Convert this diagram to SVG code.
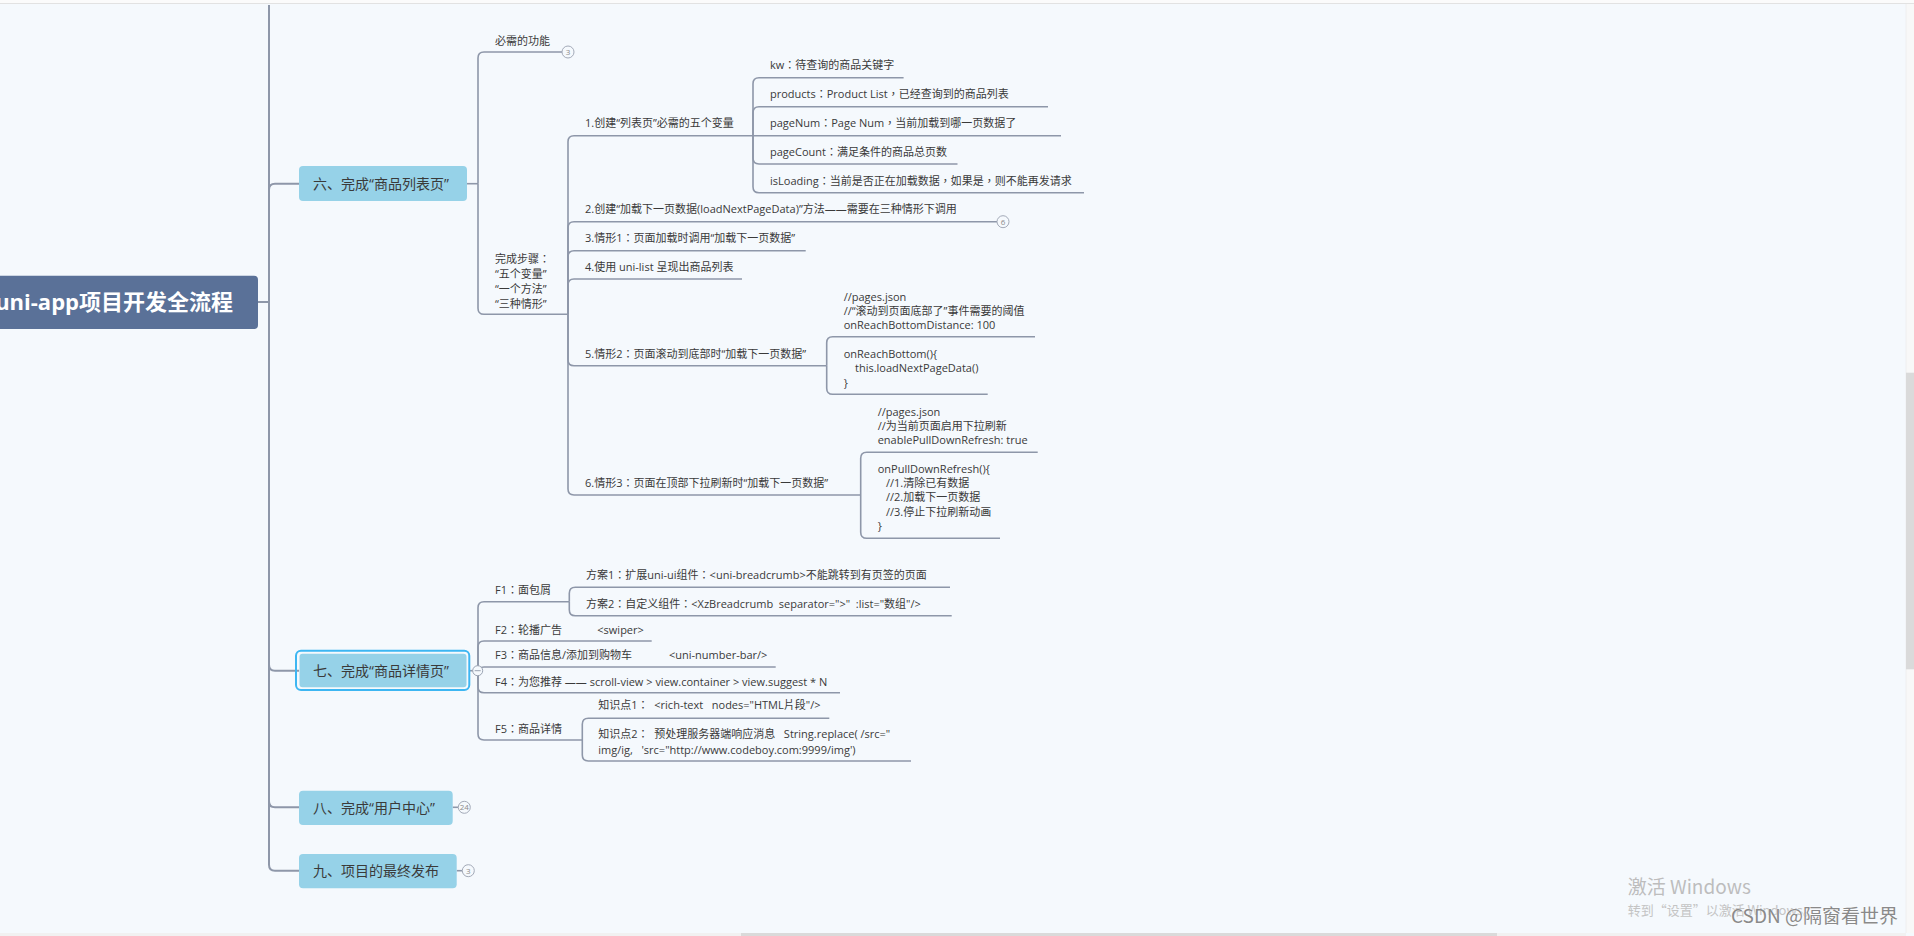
<svg xmlns="http://www.w3.org/2000/svg" width="1914" height="936" viewBox="0 0 1914 936">
<style>
.ln{fill:none;stroke:#8e97a9;stroke-width:1.6;stroke-linejoin:round}
.trunk{fill:none;stroke:#8e97a9;stroke-width:2}
.t{font-family:"Open Sans","Noto Sans CJK TC","Noto Sans CJK SC",sans-serif;font-size:11px;fill:#3a3a3a;white-space:pre}
.l1{fill:#96d2e8}
.l1t{font-family:"Open Sans","Noto Sans CJK SC",sans-serif;font-size:14px;fill:#3a3a3a}
.badge{fill:#f5f9fd;stroke:#a3aab8;stroke-width:1}
.bt{font-family:"Open Sans","Noto Sans CJK SC",sans-serif;font-size:8px;fill:#8a8a8a;text-anchor:middle}
</style>
<rect x="0" y="0" width="1914" height="936" fill="#f5f9fd"/>
<rect x="0" y="0" width="1914" height="3" fill="#fbfbfb"/>
<line x1="0" y1="3.5" x2="1914" y2="3.5" stroke="#e2e2e2" stroke-width="1"/>

<g id="connectors">
  <path class="trunk" d="M258,302 H269"/>
  <path class="trunk" d="M269,302 V5"/>
  <path class="trunk" d="M269,302 V189.7 Q269,183.7 275,183.7 H299"/>
  <path class="trunk" d="M269,302 V664.7 Q269,670.7 275,670.7 H299"/>
  <path class="trunk" d="M269,302 V801.3 Q269,807.3 275,807.3 H299"/>
  <path class="trunk" d="M269,302 V864.7 Q269,870.7 275,870.7 H299"/>
  <path class="ln" d="M467,183.7 H478"/>
  <path class="ln" d="M478,183.7 V58 Q478,52 484,52 H562"/>
  <path class="ln" d="M478,183.7 V308.3 Q478,314.3 484,314.3 H568"/>
  <path class="ln" d="M568,314.3 V141.7 Q568,135.7 574,135.7 H753"/>
  <path class="ln" d="M568,314.3 V227.7 Q568,221.7 574,221.7 H997"/>
  <path class="ln" d="M568,314.3 V256.7 Q568,250.7 574,250.7 H805.7"/>
  <path class="ln" d="M568,314.3 V285 Q568,279 574,279 H742"/>
  <path class="ln" d="M568,314.3 V359.7 Q568,365.7 574,365.7 H826.7"/>
  <path class="ln" d="M568,314.3 V489 Q568,495 574,495 H860.7"/>
  <path class="ln" d="M753,135.7 V83.7 Q753,77.7 759,77.7 H903.6"/>
  <path class="ln" d="M753,135.7 V112.7 Q753,106.7 759,106.7 H1048"/>
  <path class="ln" d="M753,135.7 H1061"/>
  <path class="ln" d="M753,135.7 V158 Q753,164 759,164 H957.5"/>
  <path class="ln" d="M753,135.7 V186.7 Q753,192.7 759,192.7 H1084"/>
  <path class="ln" d="M826.7,365.7 V342.7 Q826.7,336.7 832.7,336.7 H1035"/>
  <path class="ln" d="M826.7,365.7 V388.3 Q826.7,394.3 832.7,394.3 H987.7"/>
  <path class="ln" d="M860.7,495 V458.3 Q860.7,452.3 866.7,452.3 H1037.7"/>
  <path class="ln" d="M860.7,495 V532.3 Q860.7,538.3 866.7,538.3 H1000"/>
  <path class="ln" d="M469,670.7 H473"/>
  <path class="ln" d="M478,670.7 V607.7 Q478,601.7 484,601.7 H569.3"/>
  <path class="ln" d="M478,670.7 V647 Q478,641 484,641 H651.7"/>
  <path class="ln" d="M478,670.7 V673 Q478,667 484,667 H775.7"/>
  <path class="ln" d="M478,670.7 V686.7 Q478,692.7 484,692.7 H840"/>
  <path class="ln" d="M478,670.7 V734 Q478,740 484,740 H582.3"/>
  <path class="ln" d="M569.3,601.7 V593.3 Q569.3,587.3 575.3,587.3 H950"/>
  <path class="ln" d="M569.3,601.7 V609.7 Q569.3,615.7 575.3,615.7 H951.7"/>
  <path class="ln" d="M582.3,740 V724.3 Q582.3,718.3 588.3,718.3 H829.3"/>
  <path class="ln" d="M582.3,740 V755 Q582.3,761 588.3,761 H911"/>
  <path class="ln" d="M452.7,807.3 H458.3"/>
  <path class="ln" d="M456.7,870.7 H462.3"/>
</g>

<g id="root">
  <rect x="-20" y="275.7" width="278" height="53.3" rx="4" fill="#5a7198"/>
  <text x="233" y="310" text-anchor="end" font-family="'Open Sans','Noto Sans CJK SC',sans-serif" font-size="22" font-weight="bold" fill="#ffffff">uni-app项目开发全流程</text>
</g>

<g id="n6">
  <rect class="l1" x="299" y="166" width="168" height="35" rx="4"/>
  <text class="l1t" x="313" y="188.5">六、完成“商品列表页”</text>
</g>
<g id="n6-must">
  <text class="t" x="495" y="45">必需的功能</text>
  <circle class="badge" cx="568" cy="52" r="6"/>
  <text class="bt" x="568" y="54.8">3</text>
</g>
<g id="n6-steps">
  <text class="t" x="495" y="263.3">完成步骤：</text>
  <text class="t" x="495" y="278.3">“五个变量”</text>
  <text class="t" x="495" y="293.3">“一个方法”</text>
  <text class="t" x="495" y="307.7">“三种情形”</text>
</g>
<g id="step1"><text class="t" x="585" y="127.3">1.创建“列表页”必需的五个变量</text></g>
<g id="var-kw"><text class="t" x="770" y="69.3">kw：待查询的商品关键字</text></g>
<g id="var-products"><text class="t" x="770" y="98.3">products：Product List，已经查询到的商品列表</text></g>
<g id="var-pageNum"><text class="t" x="770" y="127.3">pageNum：Page Num，当前加载到哪一页数据了</text></g>
<g id="var-pageCount"><text class="t" x="770" y="156.3">pageCount：满足条件的商品总页数</text></g>
<g id="var-isLoading"><text class="t" x="770" y="185.3">isLoading：当前是否正在加载数据，如果是，则不能再发请求</text></g>
<g id="step2">
  <text class="t" x="585" y="213.3">2.创建“加载下一页数据(loadNextPageData)”方法——需要在三种情形下调用</text>
  <circle class="badge" cx="1003" cy="221.7" r="6"/>
  <text class="bt" x="1003" y="224.5">6</text>
</g>
<g id="step3"><text class="t" x="585" y="242.3">3.情形1：页面加载时调用“加载下一页数据”</text></g>
<g id="step4"><text class="t" x="585" y="271">4.使用 uni-list 呈现出商品列表</text></g>
<g id="step5"><text class="t" x="585" y="358.3">5.情形2：页面滚动到底部时“加载下一页数据”</text></g>
<g id="step5-a">
  <text class="t" x="843.7" y="300.7">//pages.json</text>
  <text class="t" x="843.7" y="315">//“滚动到页面底部了”事件需要的阈值</text>
  <text class="t" x="843.7" y="329.3">onReachBottomDistance: 100</text>
</g>
<g id="step5-b">
  <text class="t" x="843.7" y="358.3">onReachBottom(){</text>
  <text class="t" x="855" y="372.3">this.loadNextPageData()</text>
  <text class="t" x="843.7" y="386.7">}</text>
</g>
<g id="step6"><text class="t" x="585" y="487.3">6.情形3：页面在顶部下拉刷新时“加载下一页数据”</text></g>
<g id="step6-a">
  <text class="t" x="877.7" y="415.7">//pages.json</text>
  <text class="t" x="877.7" y="430">//为当前页面启用下拉刷新</text>
  <text class="t" x="877.7" y="444">enablePullDownRefresh: true</text>
</g>
<g id="step6-b">
  <text class="t" x="877.7" y="473.3">onPullDownRefresh(){</text>
  <text class="t" x="886" y="487.3">//1.清除已有数据</text>
  <text class="t" x="886" y="501.3">//2.加载下一页数据</text>
  <text class="t" x="886" y="515.7">//3.停止下拉刷新动画</text>
  <text class="t" x="877.7" y="530.3">}</text>
</g>

<g id="n7">
  <rect x="296" y="650.7" width="173.3" height="39.3" rx="5" fill="none" stroke="#3db6f2" stroke-width="2"/>
  <rect class="l1" x="299.5" y="653.7" width="167" height="33.6" rx="3"/>
  <text class="l1t" x="313" y="676">七、完成“商品详情页”</text>
  <circle cx="477.7" cy="670.7" r="5" fill="#f5f9fd" stroke="#9aa3b3" stroke-width="1"/>
  <line x1="474.7" y1="670.7" x2="480.7" y2="670.7" stroke="#9aa3b3" stroke-width="1"/>
</g>
<g id="f1"><text class="t" x="495" y="594.3">F1：面包屑</text></g>
<g id="f1-a"><text class="t" x="586" y="579">方案1：扩展uni-ui组件：&lt;uni-breadcrumb&gt;不能跳转到有页签的页面</text></g>
<g id="f1-b"><text class="t" x="586" y="607.7">方案2：自定义组件：&lt;XzBreadcrumb  separator="&gt;"  :list="数组"/&gt;</text></g>
<g id="f2"><text class="t" x="495" y="634.3">F2：轮播广告<tspan x="597.3">&lt;swiper&gt;</tspan></text></g>
<g id="f3"><text class="t" x="495" y="659.3">F3：商品信息/添加到购物车<tspan x="669">&lt;uni-number-bar/&gt;</tspan></text></g>
<g id="f4"><text class="t" x="495" y="685.7">F4：为您推荐 —— scroll-view &gt; view.container &gt; view.suggest * N</text></g>
<g id="f5"><text class="t" x="495" y="732.7">F5：商品详情</text></g>
<g id="f5-a"><text class="t" x="598.3" y="709.3">知识点1：  &lt;rich-text   nodes="HTML片段"/&gt;</text></g>
<g id="f5-b">
  <text class="t" x="598.3" y="737.7">知识点2：  预处理服务器端响应消息   String.replace( /src="</text>
  <text class="t" x="598.3" y="754">img/ig,   'src="http://www.codeboy.com:9999/img')</text>
</g>

<g id="n8">
  <rect class="l1" x="299" y="790.7" width="153.7" height="34.3" rx="4"/>
  <text class="l1t" x="313" y="812.5">八、完成“用户中心”</text>
  <circle class="badge" cx="464.3" cy="807.3" r="6"/>
  <text class="bt" x="464.3" y="810.1">24</text>
</g>
<g id="n9">
  <rect class="l1" x="299" y="854" width="157.7" height="34.3" rx="4"/>
  <text class="l1t" x="313" y="876">九、项目的最终发布</text>
  <circle class="badge" cx="468.3" cy="870.7" r="6"/>
  <text class="bt" x="468.3" y="873.5">3</text>
</g>

<rect x="1906" y="4" width="8" height="929" fill="#f8f8f8"/>
<line x1="1906" y1="4" x2="1906" y2="933" stroke="#ececec" stroke-width="0.8"/>
<rect x="1906" y="372.7" width="8" height="296.6" fill="#dadada"/>
<rect x="0" y="933" width="1906" height="3" fill="#f1f1f1"/>
<rect x="741" y="933" width="756" height="3" fill="#dadada"/>

<text x="1627.7" y="894" font-family="'Noto Sans CJK SC','Open Sans',sans-serif" font-size="19" fill="#bdbdbd">激活 Windows</text>
<text x="1627.7" y="915" font-family="'Noto Sans CJK SC','Open Sans',sans-serif" font-size="13" fill="#c4c4c4">转到“设置”以激活 Windows。</text>
<text x="1898" y="923.3" text-anchor="end" font-family="'Noto Sans CJK SC',sans-serif" font-size="19" fill="#8a8a8a" stroke="#ffffff" stroke-width="0.6" paint-order="stroke">CSDN @隔窗看世界</text>
</svg>
